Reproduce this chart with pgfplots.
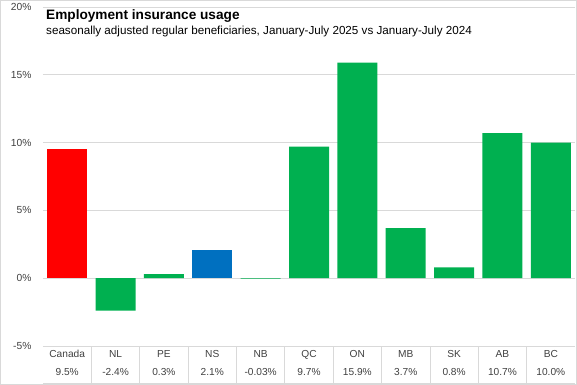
\documentclass[border=0pt]{standalone}
\usepackage{pgfplots}
\pgfplotsset{compat=1.18}
\usepackage{fontspec}
\setmainfont{Liberation Sans}
\definecolor{gridc}{HTML}{D9D9D9}
\definecolor{txt}{HTML}{404040}
\definecolor{barred}{HTML}{FF0000}
\definecolor{bargreen}{HTML}{00B050}
\definecolor{barblue}{HTML}{0070C0}
\begin{document}
\begin{tikzpicture}
\useasboundingbox (0bp,0bp) rectangle (577bp,-385bp);
\draw[gridc, line width=0.75bp] (0.5bp,-0.5bp) rectangle (576.5bp,-384.5bp);
\begin{axis}[
  at={(43bp,-7bp)}, anchor=north west,
  width=532bp, height=339bp, scale only axis,
  xmin=-0.5, xmax=10.5, ymin=-5, ymax=20,
  ytick={-5,0,5,10,15,20},
  yticklabels={-5\%,0\%,5\%,10\%,15\%,20\%},
  yticklabel style={font=\fontsize{10.3}{12}\selectfont, text=txt, xshift=-8bp},
  ymajorgrids, grid style={gridc, line width=0.75bp},
  axis line style={draw=none},
  major tick length=0pt,
  xtick={0,1,2,3,4,5,6,7,8,9,10},
  xticklabels={{Canada\\9.5\%},{NL\\-2.4\%},{PE\\0.3\%},{NS\\2.1\%},{NB\\-0.03\%},{QC\\9.7\%},{ON\\15.9\%},{MB\\3.7\%},{SK\\0.8\%},{AB\\10.7\%},{BC\\10.0\%}},
  xticklabel style={align=center, font=\fontsize{10.2}{18.5}\selectfont, text=txt, anchor=north, yshift=-0.5bp},
  ybar, bar width=40bp, bar shift=0pt,
  clip=false,
]
\addplot[fill=barred, draw=none] coordinates {(0,9.5)};
\addplot[fill=bargreen, draw=none] coordinates {(1,-2.4) (2,0.3) (4,-0.03) (5,9.7) (6,15.9) (7,3.7) (8,0.8) (9,10.7) (10,10.0)};
\addplot[fill=barblue, draw=none] coordinates {(3,2.1)};
\end{axis}
\foreach \k in {1,...,10} {
  \draw[gridc, line width=0.75bp] ({(43+\k*532/11)*1bp},-346bp) -- ({(43+\k*532/11)*1bp},-383bp);
}
\draw[gridc, line width=0.75bp] (43bp,-383bp) -- (575bp,-383bp);
\node[anchor=base west, font=\fontsize{13.7}{16}\selectfont\bfseries, inner sep=0pt] at (46bp,-19bp) {Employment insurance usage};
\node[anchor=base west, font=\fontsize{11.7}{14}\selectfont, inner sep=0pt] at (46bp,-34.5bp) {seasonally adjusted regular beneficiaries, January-July 2025 vs January-July 2024};
\end{tikzpicture}
\end{document}
